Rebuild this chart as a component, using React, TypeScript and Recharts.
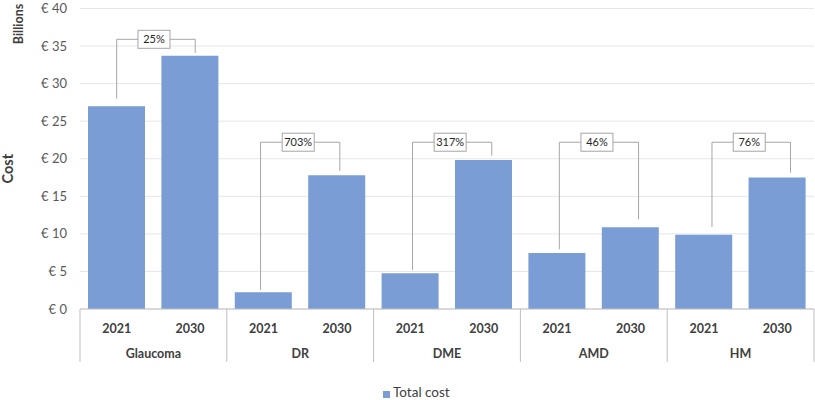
import { BarChart, Bar, XAxis, YAxis, CartesianGrid, Legend, ReferenceLine } from 'recharts';

// categories
const groups = ['Glaucoma', 'DR', 'DME', 'AMD', 'HM'];
const years = ['2021', '2030'];

// total cost, € billions
const cost2021 = [27.0, 2.22, 4.76, 7.45, 9.9];
const cost2030 = [33.7, 17.8, 19.85, 10.88, 17.5];

// change callouts (bracket positions in bar-index / value units)
const changeLabels = ['25%', '703%', '317%', '46%', '76%'];
const bracketTop = [35.9, 22.2, 22.2, 22.2, 22.2];
const bracketLeftX = [0.0, 1.96, 4.03, 6.03, 8.11];
const bracketRightX = [1.07, 3.04, 5.11, 7.11, 9.18];
const bracketLeftEnd = [28.0, 2.53, 5.2, 7.95, 10.9];
const bracketRightEnd = [34.1, 18.4, 20.4, 11.94, 18.15];

const yTicks = [0, 5, 10, 15, 20, 25, 30, 35, 40];

const data = groups.flatMap((g, gi) =>
  years.map((yr, yi) => ({
    idx: gi * 2 + yi,
    group: g,
    year: yr,
    cost: yi === 0 ? cost2021[gi] : cost2030[gi],
  }))
);

const yearTicks = data.map((d) => d.idx);
const groupTicks = [-0.5, 0.5, 1.5, 2.5, 3.5, 4.5, 5.5, 6.5, 7.5, 8.5, 9.5];

const BAR = '#7b9dd5';
const LINE = '#a6a6a6';
const TEXT = '#404040';
const FONT = 'Lato, "Open Sans", sans-serif';

const YearTick = (props: any) => {
  const { x, y, payload } = props;
  const row = data.find((d) => d.idx === payload.value);
  return (
    <text x={x} y={y + 24} textAnchor="middle" fontSize={12.5} fontWeight={700} fill={TEXT} fontFamily={FONT}>
      {row ? row.year : ''}
    </text>
  );
};

const GroupTick = (props: any) => {
  const { x, y, payload } = props;
  const k = Math.round(payload.value + 0.5);
  if (k % 2 === 0) {
    // group separator, runs up through the year row
    return <line x1={x} x2={x} y1={y - 28} y2={y + 25} stroke="#bfbfbf" strokeWidth={1} />;
  }
  return (
    <text x={x} y={y + 20.5} textAnchor="middle" fontSize={12.5} fontWeight={700} fill={TEXT} fontFamily={FONT}>
      {groups[(k - 1) / 2]}
    </text>
  );
};

const ChangeBox = (props: any) => {
  const { viewBox, text } = props;
  if (!viewBox) return null;
  const cx = viewBox.x + viewBox.width / 2 - 2;
  const cy = viewBox.y;
  const w = 32;
  const h = 18;
  return (
    <g>
      <rect x={cx - w / 2} y={cy - h / 2} width={w} height={h} fill="#fff" stroke={LINE} strokeWidth={1} />
      <text x={cx} y={cy + 4} textAnchor="middle" fontSize={11} fill="#262626" fontFamily={FONT}>
        {text}
      </text>
    </g>
  );
};

const AxisTitles = (props: any) => {
  const { viewBox } = props;
  if (!viewBox) return null;
  const cy = viewBox.y + viewBox.height / 2 + 10;
  return (
    <g fontFamily={FONT} fontWeight={700}>
      <text x={13} y={cy} transform={`rotate(-90, 13, ${cy})`} textAnchor="middle" fontSize={14.5} fill={TEXT}>
        Cost
      </text>
      <text x={23} y={24} transform="rotate(-90, 23, 24)" textAnchor="middle" fontSize={12.5} fill={TEXT}>
        Billions
      </text>
    </g>
  );
};

const LegendContent = () => (
  <div style={{ position: 'relative', height: 38, fontFamily: FONT }}>
    <span style={{ position: 'absolute', left: 383, top: 29, width: 7, height: 7, background: BAR }} />
    <span style={{ position: 'absolute', left: 393, top: 23, fontSize: 13.5, lineHeight: '15px', color: TEXT, whiteSpace: 'nowrap' }}>
      Total cost
    </span>
  </div>
);

export default function App() {
  return (
    <div style={{ position: 'absolute', left: 0, top: 0, width: 815, height: 400, background: '#fff', fontFamily: FONT }}>
      <BarChart width={815} height={400} data={data} margin={{ top: 8.5, right: 1, left: 0, bottom: 0 }}>
        <CartesianGrid xAxisId="inner" vertical={false} stroke="#e6e6e6" />
        {/* inner row: years */}
        <XAxis
          xAxisId="inner"
          type="number"
          dataKey="idx"
          domain={[-0.5, 9.5]}
          ticks={yearTicks}
          interval={0}
          height={28}
          axisLine={{ stroke: '#bfbfbf' }}
          tickLine={false}
          tickSize={0}
          tickMargin={0}
          tick={<YearTick />}
        />
        {/* outer row: disease groups + separators */}
        <XAxis
          xAxisId="outer"
          type="number"
          dataKey="idx"
          domain={[-0.5, 9.5]}
          ticks={groupTicks}
          interval={0}
          height={25}
          axisLine={false}
          tickLine={false}
          tickSize={0}
          tickMargin={0}
          tick={<GroupTick />}
        />
        <YAxis
          domain={[0, 40]}
          ticks={yTicks}
          width={80}
          axisLine={false}
          tickLine={false}
          tickSize={0}
          tickMargin={13}
          tickFormatter={(v) => `€ ${v}`}
          tick={{ fill: '#595959', fontSize: 13, fontFamily: FONT }}
          label={<AxisTitles />}
        />
        <Legend verticalAlign="bottom" height={38} content={<LegendContent />} />
        <Bar xAxisId="inner" dataKey="cost" name="Total cost" fill={BAR} barSize={57} isAnimationActive={false} />
        {groups.map((g, gi) => [
          <ReferenceLine
            key={`l-${g}`}
            xAxisId="inner"
            segment={[
              { x: bracketLeftX[gi], y: bracketLeftEnd[gi] },
              { x: bracketLeftX[gi], y: bracketTop[gi] },
            ]}
            stroke={LINE}
            strokeWidth={1}
          />,
          <ReferenceLine
            key={`r-${g}`}
            xAxisId="inner"
            segment={[
              { x: bracketRightX[gi], y: bracketTop[gi] },
              { x: bracketRightX[gi], y: bracketRightEnd[gi] },
            ]}
            stroke={LINE}
            strokeWidth={1}
          />,
          <ReferenceLine
            key={`t-${g}`}
            xAxisId="inner"
            segment={[
              { x: bracketLeftX[gi], y: bracketTop[gi] },
              { x: bracketRightX[gi], y: bracketTop[gi] },
            ]}
            stroke={LINE}
            strokeWidth={1}
            label={<ChangeBox text={changeLabels[gi]} />}
          />,
        ])}
      </BarChart>
    </div>
  );
}
